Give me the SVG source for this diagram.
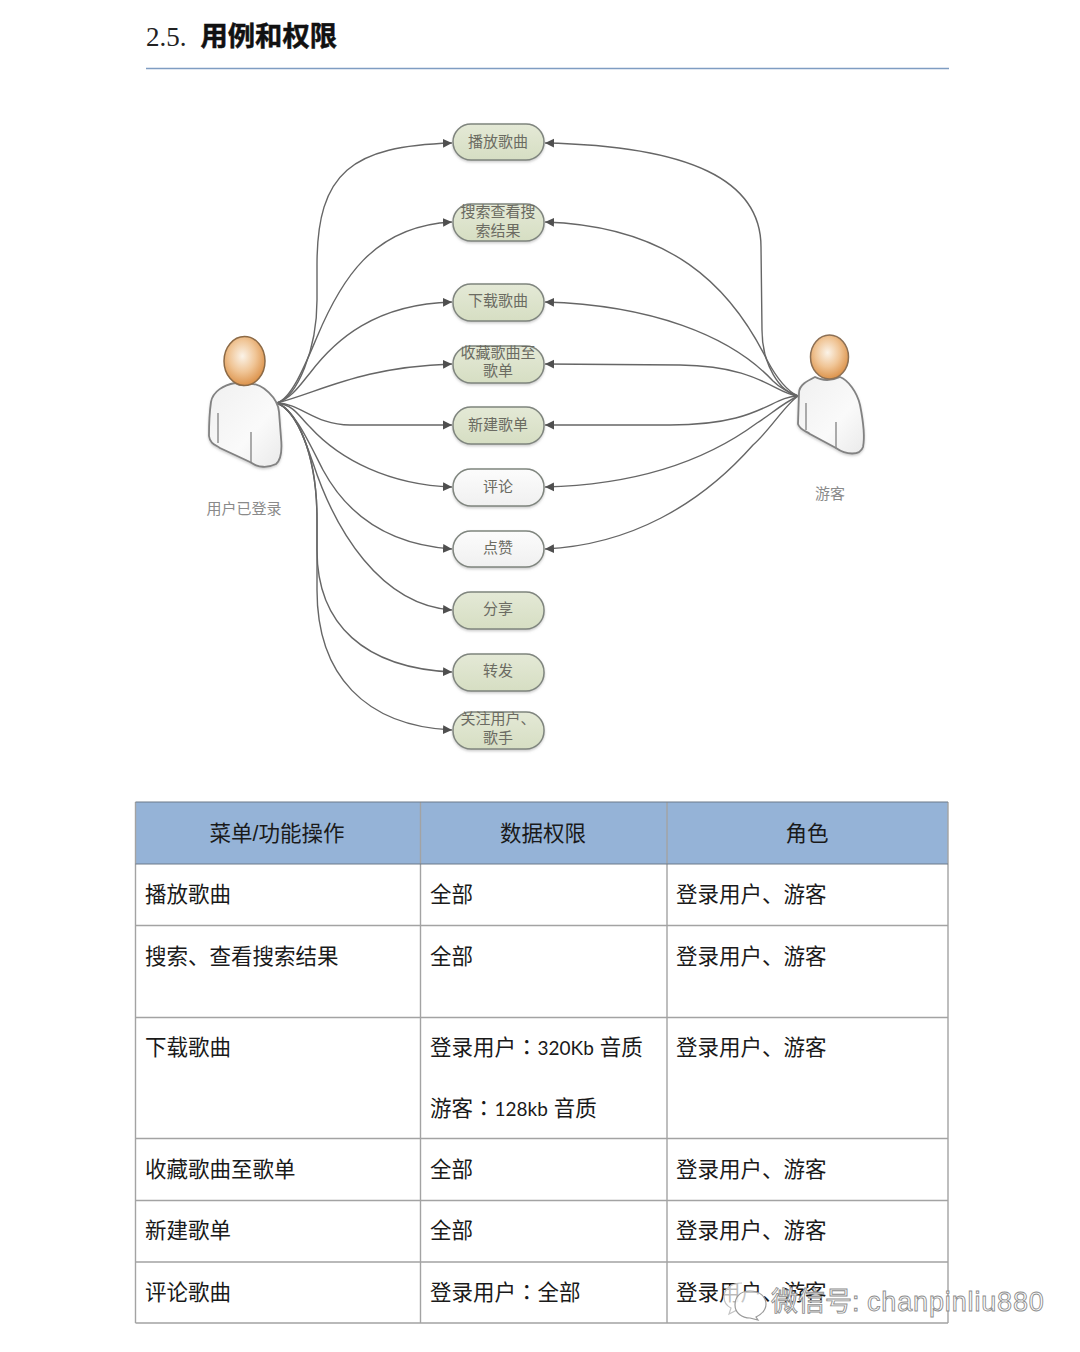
<svg xmlns="http://www.w3.org/2000/svg" width="1080" height="1352" viewBox="0 0 1080 1352">
<style>
text{font-family:"Liberation Sans","Noto Sans CJK SC",sans-serif}
.pl{font-size:15px;fill:#6b6b62;text-anchor:middle}
.p{stroke:#7f857e;stroke-width:1.5;filter:url(#sh)}
.g{fill:url(#gg)}
.w{fill:url(#wg)}
.c{fill:none;stroke:#666;stroke-width:1.4;marker-end:url(#a)}
.t{font-size:21.5px;fill:#1a1a1a}
.la{font-family:Lato,"Liberation Sans",sans-serif;font-size:19px}
.co{font-family:"Noto Sans CJK TC",sans-serif}
.h{font-size:21.5px;fill:#1a1a1a;text-anchor:middle}
.hc{fill:#95b3d7}
.gl{stroke:#a3a3a3;stroke-width:1.4;fill:none}
.body{fill:url(#bd);stroke:#828282;stroke-width:1.8;filter:url(#sh)}
.lab{font-size:15px;fill:#8a8a8a;text-anchor:middle}
.fold{stroke:#8a8a8a;stroke-width:1.4;fill:none}
</style>
<defs>
<marker id="a" markerUnits="userSpaceOnUse" markerWidth="10" markerHeight="10" refX="9" refY="5" orient="auto"><path d="M0 .6L9 5L0 9.400z" fill="#4f4f4f"/></marker>
<linearGradient id="gg" x1="0" y1="0" x2="0" y2="1"><stop offset="0" stop-color="#e4e9d6"/><stop offset="1" stop-color="#d6dec3"/></linearGradient>
<linearGradient id="wg" x1="0" y1="0" x2="0" y2="1"><stop offset="0" stop-color="#fcfcfc"/><stop offset="1" stop-color="#f0f0f0"/></linearGradient>
<linearGradient id="bd" x1="0" y1="0" x2="1" y2="1"><stop offset="0" stop-color="#f0f0f0"/><stop offset=".6" stop-color="#fafafa"/><stop offset="1" stop-color="#eaeaea"/></linearGradient>
<radialGradient id="hd" cx=".45" cy=".4" r=".65"><stop offset="0" stop-color="#fbf3e8"/><stop offset=".5" stop-color="#f0c596"/><stop offset="1" stop-color="#d98a3e"/></radialGradient>
<filter id="sh" x="-10%" y="-20%" width="120%" height="150%"><feDropShadow dx="0" dy="1.500" stdDeviation="1.200" flood-color="#999" flood-opacity=".5"/></filter>
</defs>
<rect width="1080" height="1352" fill="#fff"/>
<g id="title">
<text x="146" y="46" font-size="27" style="font-family:'Liberation Serif',serif" fill="#222">2.5.</text>
<text x="200.500" y="46" font-size="27.300" font-weight="700" fill="#111" stroke="#111" stroke-width=".5">用例和权限</text>
<line x1="146" y1="68.500" x2="949" y2="68.500" stroke="#7f9dc2" stroke-width="1.600"/>
</g>
<g id="connectors">
<path class="c" d="M277 403C297 397 317 350 317 300L317 265C317 172 352 146 452 143"/>
<path class="c" d="M277 403C292 398 305 365 317 337C340 282 372 226 452 222"/>
<path class="c" d="M277 403C292 398 300 385 310 373C335 340 375 304 452 302"/>
<path class="c" d="M277 403C320 392 360 367 452 364"/>
<path class="c" d="M277 403C300 403 315 425 350 425L452 425"/>
<path class="c" d="M277 403C295 405 300 418 310 427C340 460 390 485 452 487"/>
<path class="c" d="M277 403C295 410 310 445 323 470C350 520 395 545 452 549"/>
<path class="c" d="M277 403C295 410 305 440 313 463C335 530 380 605 452 610"/>
<path class="c" d="M277 403C295 410 317 450 317 520L317 550C317 625 365 668 452 672"/>
<path class="c" d="M277 403C295 410 317 450 317 520L317 590C317 675 365 726 452 730"/>
<path class="c" d="M798 396C780 392 762 365 762 330L761 247C761 180 690 146 545 143"/>
<path class="c" d="M798 396C785 390 775 375 767 360C730 285 670 226 545 222"/>
<path class="c" d="M798 396C788 392 780 388 773 381C730 335 650 305 545 302"/>
<path class="c" d="M798 396C775 394 760 366 680 365L545 364"/>
<path class="c" d="M798 396C770 397 760 425 670 425L545 425"/>
<path class="c" d="M798 396C780 405 770 415 757 423C700 465 630 485 545 487"/>
<path class="c" d="M798 396C785 405 770 430 753 445C700 505 630 545 545 549"/>
</g>
<g id="node-play"><rect class="p g" x="453" y="124" width="91" height="36" rx="18"/><text class="pl" x="498" y="147">播放歌曲</text></g>
<g id="node-search"><rect class="p g" x="453" y="204" width="91" height="37" rx="18"/><text class="pl" x="498" y="217">搜索查看搜</text><text class="pl" x="498" y="236">索结果</text></g>
<g id="node-download"><rect class="p g" x="453" y="284" width="91" height="37" rx="18"/><text class="pl" x="498" y="306">下载歌曲</text></g>
<g id="node-collect"><rect class="p g" x="453" y="346" width="91" height="37" rx="18"/><text class="pl" x="498" y="358">收藏歌曲至</text><text class="pl" x="498" y="376">歌单</text></g>
<g id="node-newlist"><rect class="p g" x="453" y="407" width="91" height="37" rx="18"/><text class="pl" x="498" y="430">新建歌单</text></g>
<g id="node-comment"><rect class="p w" x="453" y="469" width="91" height="37" rx="18"/><text class="pl" x="498" y="492">评论</text></g>
<g id="node-like"><rect class="p w" x="453" y="531" width="91" height="36" rx="18"/><text class="pl" x="498" y="553">点赞</text></g>
<g id="node-share"><rect class="p g" x="453" y="592" width="91" height="37" rx="18"/><text class="pl" x="498" y="614">分享</text></g>
<g id="node-forward"><rect class="p g" x="453" y="654" width="91" height="37" rx="18"/><text class="pl" x="498" y="676">转发</text></g>
<g id="node-follow"><rect class="p g" x="453" y="712" width="91" height="37" rx="18"/><text class="pl" x="498" y="724">关注用户、</text><text class="pl" x="498" y="743">歌手</text></g>
<g id="actor-user">
<path class="body" d="M235 383C224 385 213 391 211 402C209 416 209 428 209 436C210 444 216 445 220 448L250 462C258 468 268 468 276 464C282 459 282 448 281 438L279 412C278 398 262 383 250 384C245 386 240 386 235 383z"/>
<path class="fold" d="M218 413V443M251 432V462"/>
<ellipse cx="244.500" cy="361" rx="20.500" ry="24.500" fill="url(#hd)" stroke="#8c6a46" stroke-width="1.500"/>
<text class="lab" x="244" y="514">用户已登录</text>
</g>
<g id="actor-guest">
<path class="body" d="M815 377C807 381 799 385 799 393L798 424C800 430 806 431 810 434L836 448C846 455 860 456 863 447C865 437 863 420 860 405C857 392 848 380 840 377C832 381 822 381 815 377z"/>
<path class="fold" d="M806 403V430M836 422V449"/>
<ellipse cx="829.500" cy="357" rx="19" ry="22" fill="url(#hd)" stroke="#8c7055" stroke-width="1.500"/>
<text class="lab" x="830" y="499">游客</text>
</g>
<g id="table">
<rect class="hc" x="135.500" y="802" width="812.500" height="62"/>
<path class="gl" d="M135.500 802V1323M420.500 802V1323M667 802V1323M948 802V1323M135.500 925.500H948M135.500 1017.500H948M135.500 1138.500H948M135.500 1200.500H948M135.500 1262H948M135.500 1323H948"/>
<path d="M135.500 802H948M135.500 864H948" stroke="#6c7a8a" stroke-width="1.200" fill="none"/>
<text class="h" x="277" y="841">菜单/功能操作</text><text class="h" x="543" y="841">数据权限</text><text class="h" x="807" y="841">角色</text>
<text class="t" x="145" y="902">播放歌曲</text><text class="t" x="430" y="902">全部</text><text class="t" x="676" y="902">登录用户、游客</text>
<text class="t" x="145" y="964">搜索、查看搜索结果</text><text class="t" x="430" y="964">全部</text><text class="t" x="676" y="964">登录用户、游客</text>
<text class="t" x="145" y="1055">下载歌曲</text><text class="t" x="430" y="1055">登录用户<tspan class="co">：</tspan><tspan class="la">320Kb</tspan> 音质</text><text class="t" x="430" y="1116">游客<tspan class="co">：</tspan><tspan class="la">128kb</tspan> 音质</text><text class="t" x="676" y="1055">登录用户、游客</text>
<text class="t" x="145" y="1177">收藏歌曲至歌单</text><text class="t" x="430" y="1177">全部</text><text class="t" x="676" y="1177">登录用户、游客</text>
<text class="t" x="145" y="1238">新建歌单</text><text class="t" x="430" y="1238">全部</text><text class="t" x="676" y="1238">登录用户、游客</text>
<text class="t" x="145" y="1300">评论歌曲</text><text class="t" x="430" y="1300">登录用户<tspan class="co">：</tspan>全部</text><text class="t" x="676" y="1300">登录用户、游客</text>
</g>
<g id="watermark">
<path d="M742 1283C731 1283 724 1289 724 1297C724 1302 727 1306 731 1308L729 1314L737 1310" fill="#fff" fill-opacity=".7" stroke="#c4c4c4" stroke-width="1.200"/>
<path d="M750 1291C739 1291 735 1298 735 1305C735 1313 742 1318 750 1318L758 1320L756 1317C762 1314 766 1310 766 1304C766 1297 760 1291 750 1291z" fill="#fff" fill-opacity=".75" stroke="#9a9a9a" stroke-width="1.200"/>
<text x="771" y="1311" font-size="27" fill="#fff" stroke="#8d8d8d" stroke-width=".9">微信号: <tspan letter-spacing=".85">chanpinliu880</tspan></text>
</g>
</svg>
